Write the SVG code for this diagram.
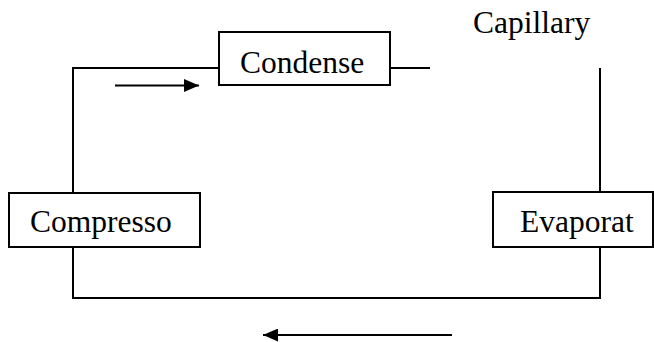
<svg xmlns="http://www.w3.org/2000/svg" width="654" height="342" viewBox="0 0 654 342">
<defs>
<style>
.box{fill:#fff;stroke:#000;stroke-width:2}
.ln{fill:none;stroke:#000;stroke-width:2}
.t{font-family:"Liberation Serif","Times New Roman",serif;font-size:31.5px;fill:#000}
</style>
<marker id="ah" markerWidth="15" markerHeight="13" refX="15" refY="6.5" orient="auto" markerUnits="userSpaceOnUse">
<path d="M0,0 L15,6.5 L0,13 Z" fill="#000"/>
</marker>
</defs>
<rect width="654" height="342" fill="#fff"/>
<g id="connectors">
<path class="ln" d="M219,68 H73 V193"/>
<path class="ln" d="M73,247 V298 H600 V247"/>
<path class="ln" d="M390,68 H430"/>
<path class="ln" d="M600,68 V192"/>
<path class="ln" d="M115,85.5 H199" marker-end="url(#ah)"/>
<path class="ln" d="M452,335 H263" marker-end="url(#ah)"/>
</g>
<g id="condenser">
<rect class="box" x="219" y="32" width="171" height="53"/>
<text class="t" x="240" y="73">Condense</text>
</g>
<g id="compressor">
<rect class="box" x="9" y="193" width="191" height="54"/>
<text class="t" x="30" y="232">Compresso</text>
</g>
<g id="evaporator">
<rect class="box" x="493" y="192" width="160" height="55"/>
<text class="t" x="520" y="232">Evaporat</text>
</g>
<g id="capillary">
<text class="t" x="473" y="33">Capillary</text>
</g>
</svg>
